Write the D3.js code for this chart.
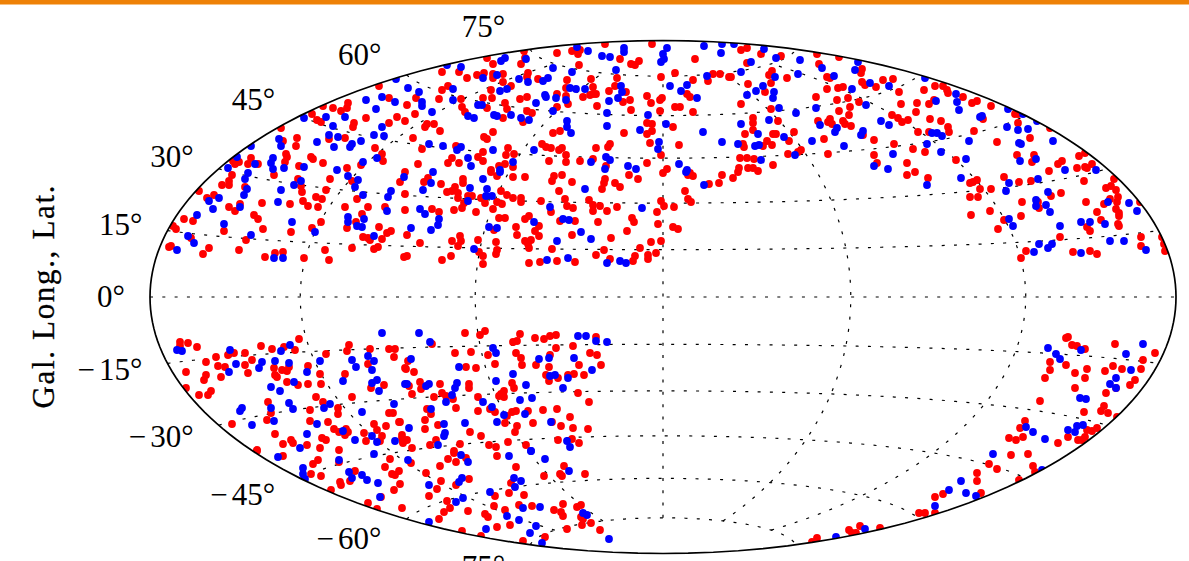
<!DOCTYPE html>
<html><head><meta charset="utf-8">
<script src="https://cdn.jsdelivr.net/npm/d3@7/dist/d3.min.js"></script>
<style>html,body{margin:0;padding:0;background:#fff;overflow:hidden}svg{display:block}</style>
</head><body><svg id="chart" width="1189" height="561"></svg>
<script>
// Map-plane readings of the Hammer map: [east of centre, north of centre]
const redNorthWest=[[-221,225],[-204,225],[-196,219],[-186,222],[-284,211],[-221,207],[-215,211],[-274,199],[-247,199],[-224,198],[-256,192],[-202,198],[-201,190],[-198,185],[-315,194],[-316,189],[-330,189],[-322,186],[-340,191],[-351,183],[-248,183],[-266,180],[-258,176],[-297,179],[-346,177],[-342,175],[-309,174],[-310,170],[-274,174],[-236,173],[-238,170],[-229,173],[-223,166],[-382,169],[-366,159],[-367,151],[-380,156],[-334,158],[-318,159],[-250,159],[-288,149],[-241,148],[-207,151],[-281,143],[-280,136],[-377,143],[-376,140],[-378,135],[-352,140],[-350,138],[-340,134],[-364,131],[-412,139],[-430,136],[-424,135],[-428,133],[-415,133],[-405,133],[-211,139],[-215,134],[-204,134],[-185,140],[-245,133],[-316,129],[-302,132],
[-58,253],[-11,253],[-106,244],[-91,246],[-83,247],[-85,243],[-176,239],[-170,233],[-139,246],[-138,239],[-142,233],[-43,238],[-24,236],[-32,233],[-28,232],[-84,232],[-179,224],[-170,223],[-160,223],[-135,224],[-136,220],[-170,219],[-160,215],[-125,218],[-96,217],[-72,218],[-46,219],[-2,220],[-152,211],[-172,207],[-70,210],[-97,209],[-48,211],[-54,206],[-37,205],[-97,201],[-106,203],[-70,203],[-67,203],[-73,202],[-80,200],[-16,201],[-1,199],[-3,197],[-180,199],[-171,199],[-143,198],[-136,200],[-158,194],[-156,188],[-176,189],[-40,195],[-33,197],[-12,194],[-95,193],[-66,191],[-106,190],[-32,187],[-3,186],[-136,186],[-131,184],[-160,179],[-140,175],[-16,174],[-11,173],[-11,166],[-16,163],[-170,165],[-110,164],[-103,166],[-39,164],[-179,160],[-176,158],[-13,154],[-121,153],[-117,150],[-112,149],[-101,149],[-104,147],[-53,153],[-55,150],[-67,149],[-155,149],[-180,145],[-157,142],[-149,143],[-97,142],[-2,142],[-70,138],[-180,136],[-114,136],[-97,135],[-83,136],[-57,131],[-16,134],[-158,133],[-164,131],[-150,130],[-172,127]];
const redNorthEast=[[32,238],[12,224],[30,217],[50,223],[57,223],[45,216],[66,220],[24,203],[27,200],[12,190],[17,190],[30,185],[10,170],[16,152],[4,128],
[78,247],[84,249],[98,243],[118,241],[154,243],[176,240],[84,234],[156,233],[109,226],[106,222],[68,220],[124,219],[108,214],[164,220],[167,219],[199,228],[198,224],[85,213],[102,205],[164,208],[175,209],[180,210],[199,215],[202,212],[213,210],[220,217],[230,218],[236,205],[272,211],[280,211],[284,207],[285,204],[261,207],[153,200],[174,197],[185,199],[196,195],[300,200],[314,196],[309,194],[78,193],[238,193],[254,194],[271,197],[266,193],[187,190],[176,186],[108,188],[253,185],[229,182],[235,179],[239,175],[245,177],[186,182],[167,178],[90,179],[90,174],[155,176],[115,176],[165,175],[169,173],[180,176],[182,173],[188,171],[267,178],[278,176],[285,170],[286,165],[255,165],[266,165],[311,166],[90,167],[82,163],[110,163],[113,163],[131,165],[200,162],[126,156],[161,158],[211,157],[231,153],[104,156],[100,151],[109,152],[80,153],[81,150],[250,148],[262,145],[138,147],[135,145],[125,143],[165,143],[211,142],[77,139],[84,139],[91,138],[110,132],[293,137],[214,134],[244,134],[76,129],[90,129],
[328,191],[352,183],[355,183],[355,174],[387,169],[320,178],[367,159],[334,155],[354,142],[371,142],[369,135],[416,141],[422,144],[399,136],[395,133],[429,133],[414,129],[422,130],[424,129],[386,126],[451,118],[341,120],[314,117],[310,115],[307,114],[356,115],[368,116],[421,116],[443,109],[448,111],[453,107],[317,108],[328,108],[307,100],[315,100],[398,104],[388,101],[455,100],[447,98],[477,95],[359,95],[423,95],[441,93],[454,95],[375,95],[376,89],[453,88],[327,86],[308,82],[456,84],[456,81],[434,85],[358,81],[341,77],[438,77],[424,70],[455,73],[456,71],[335,68],[427,66],[397,60],[478,60],[499,60],[501,53],[478,51],[410,45],[427,46],[434,43],[502,46],[363,46],[358,39],
[244,122],[252,125],[265,119]];
const redNorthBand=[[-389,122],[-431,122],[-434,116],[-434,112],[-441,112],[-464,106],[-418,110],[-365,118],[-362,111],[-361,105],[-333,118],[-337,107],[-449,102],[-456,99],[-347,100],[-341,98],[-306,98],[-311,116],[-263,115],[-401,94],[-373,93],[-360,96],[-355,91],[-345,90],[-434,90],[-428,86],[-423,93],[-318,90],[-295,90],[-278,90],[-301,83],[-479,78],[-470,76],[-409,82],[-405,78],[-342,75],[-307,75],[-490,71],[-487,68],[-400,68],[-439,66],[-372,65],[-351,69],[-316,69],[-284,70],[-272,66],[-276,64],[-472,59],[-417,57],[-300,60],[-295,59],[-293,57],[-281,58],[-289,48],[-285,50],[-492,51],[-494,50],[-454,49],[-460,43],[-424,47],[-338,47],[-311,49],[-398,40],[-388,44],[-380,45],[-359,39],[-334,37],
[-258,125],[-239,115],[-235,119],[-222,113],[-258,103],[-200,118],[-200,114],[-216,105],[-211,106],[-208,110],[-205,104],[-205,99],[-195,101],[-191,101],[-172,125],[-166,121],[-150,120],[-138,120],[-101,122],[-109,121],[-111,116],[-91,115],[-58,118],[-59,114],[-61,108],[-48,114],[-43,110],[0,124],[25,122],[30,121],[-25,118],[-34,122],[22,106],[25,98],[28,95],[-2,96],[1,91],[11,90],[-104,106],[-162,106],[-156,102],[-150,99],[-142,99],[-142,95],[-182,99],[-178,94],[-166,95],[-161,93],[-170,88],[-201,89],[-209,87],[-199,94],[-187,85],[-258,87],[-231,88],[-224,85],[-122,96],[-112,85],[-98,98],[-96,91],[-90,89],[-74,97],[-70,92],[-70,86],[-63,91],[-56,86],[-46,90],[-6,85],[-134,81],[-138,78],[-164,79],[-158,79],[-103,76],[-88,76],[-65,75],[-31,79],[-29,75],[-5,73],[10,70],[15,68],[-124,71],[-128,66],[-147,70],[-169,67],[-36,66],[-256,62],[-146,62],[-124,61],[-91,62],[-203,61],[-243,54],[-211,56],[-202,56],[-205,51],[-185,57],[-167,55],[-138,56],[-132,57],[-135,53],[-134,49],[-52,59],[-12,55],[-2,56],[-111,48],[-166,47],[-167,43],[-23,49],[-59,47],[-7,44],[-67,42],[-15,42],[-28,41],[-30,36],[-15,38],[-53,38],[-259,40],[-256,41],[-221,37],[-212,41],[-184,45],[-180,41],[-180,33],[-134,34],[-123,35],[-106,36],[-88,35],
[46,113],[56,114],[59,122],[70,119],[75,125],[85,129],[95,126],[27,124]];
const redSouthWest=[[-483,-45],[-475,-46],[-466,-50],[-483,-49],[-364,-42],[-402,-49],[-391,-52],[-379,-50],[-368,-53],[-314,-48],[-316,-54],[-293,-52],[-274,-52],[-268,-52],[-269,-60],[-337,-57],[-418,-56],[-429,-56],[-435,-58],[-447,-60],[-457,-65],[-411,-63],[-445,-69],[-438,-70],[-418,-68],[-477,-75],[-457,-78],[-459,-83],[-442,-80],[-415,-76],[-389,-71],[-374,-70],[-381,-73],[-376,-74],[-388,-78],[-386,-80],[-376,-85],[-365,-88],[-355,-69],[-343,-77],[-355,-87],[-342,-87],[-318,-77],[-295,-67],[-279,-88],[-292,-91],[-258,-71],[-477,-91],[-452,-94],[-455,-98],[-464,-98],[-347,-100],[-311,-100],[-340,-105],[-395,-105],[-325,-111],[-325,-117],[-392,-116],[-353,-113],[-274,-116],[-270,-116],[-396,-123],[-353,-124],[-335,-125],[-431,-127],[-289,-127],[-277,-129],[-264,-125],[-388,-137],[-329,-132],[-324,-135],[-317,-132],[-315,-135],[-318,-138],[-299,-136],[-286,-133],[-281,-139],[-261,-138],[-260,-145],[-297,-144],[-283,-144],[-341,-141],[-337,-143],[-372,-143],[-370,-146],[-380,-147],[-356,-148],[-406,-153],[-343,-151],[-324,-153]];
const redSouthMiddle=[[-198,-36],[-178,-34],[-183,-38],[-143,-37],[-128,-41],[-119,-42],[-113,-39],[-107,-38],[-67,-40],[-150,-45],[-146,-44],[-231,-47],[-107,-51],[-90,-49],[-208,-56],[-192,-55],[-175,-58],[-147,-56],[-113,-58],[-73,-56],[-66,-58],[-255,-64],[-142,-61],[-141,-68],[-168,-67],[-127,-68],[-114,-70],[-84,-68],[-62,-68],[-257,-72],[-249,-75],[-197,-70],[-187,-71],[-117,-78],[-105,-81],[-114,-84],[-95,-78],[-89,-77],[-79,-78],[-254,-89],[-243,-85],[-242,-92],[-223,-87],[-194,-87],[-194,-91],[-221,-96],[-151,-86],[-149,-91],[-251,-97],[-229,-100],[-217,-99],[-210,-102],[-185,-100],[-159,-94],[-162,-97],[-164,-99],[-159,-100],[-85,-96],[-74,-105],[-207,-111],[-236,-112],[-232,-117],[-185,-114],[-173,-112],[-168,-115],[-151,-115],[-147,-114],[-156,-119],[-135,-114],[-120,-113],[-106,-112],[-93,-120],[-238,-123],[-263,-125],[-158,-126],[-146,-129],[-130,-126],[-111,-125],[-102,-129],[-90,-131],[-75,-132],[-238,-132],[-225,-128],[-193,-135],[-182,-139],[-148,-135],[-261,-141],[-256,-143],[-260,-146],[-227,-143],[-233,-148],[-203,-147],[-174,-148],[-167,-150],[-155,-145],[-137,-148],[-105,-143],[-91,-142],[-84,-146],[-251,-151],[-209,-154],
[-380,-159],[-406,-154],[-345,-163],[-350,-167],[-324,-165],[-209,-156],[-215,-162],[-207,-165],[-197,-161],[-223,-169],[-273,-162],[-278,-170],[-252,-166],[-166,-159],[-147,-170],[-99,-169],[-78,-177],[-119,-179],[-103,-177],[-101,-179],[-237,-176],[-264,-174],[-271,-177],[-268,-178],[-308,-174],[-352,-177],[-342,-179],[-194,-182],[-222,-184],[-263,-187],[-313,-184],[-323,-185],[-322,-188],[-152,-186],[-226,-192],[-207,-188],[-269,-193],[-154,-196],[-168,-199],[-139,-198],[-332,-193],[-234,-199],[-282,-200],[-216,-204],[-213,-211],[-219,-215],[-195,-214],[-224,-222],[-295,-206],[-261,-211],[-286,-212],[-169,-209],[-144,-208],[-131,-209],[-100,-207],[-109,-213],[-102,-215],[-100,-219],[-86,-210],[-82,-208],[-82,-220],[-80,-222],[-72,-226],[-81,-228],[-96,-232],[-158,-213],[-178,-217],[-175,-220],[-166,-230],[-153,-228],[-201,-234],[-182,-239],[-63,-233],[-140,-244],[-118,-240]];
const redSouthEast=[[403,-41],[405,-40],[409,-48],[414,-49],[422,-52],[452,-47],[492,-56],[480,-63],[387,-65],[403,-68],[387,-73],[424,-72],[450,-69],[459,-72],[442,-74],[478,-72],[412,-76],[382,-81],[422,-81],[472,-83],[467,-88],[412,-91],[443,-96],[453,-91],[377,-104],[441,-109],[438,-114],[445,-116],[421,-115],[454,-120],[362,-124],[357,-131],[424,-133],[429,-134],[434,-131],[360,-140],[346,-141],[353,-143],[405,-140],[395,-146],[415,-143],[419,-143],[422,-140],[348,-158],[365,-157],[326,-167],[334,-172],[370,-169],[372,-175],[314,-176],[314,-184],[356,-183],[318,-196],[280,-197],[272,-200],[272,-216],[256,-216],[262,-216],[217,-231],[186,-233],[189,-236],[193,-236],[197,-229],[154,-241],[149,-245]];
const blueNorth=[[-216,232],[-202,230],[-267,218],[-255,209],[-244,205],[-210,208],[-210,197],[-241,195],[-241,191],[-268,195],[-297,197],[-281,200],[-287,188],[-231,185],[-195,181],[-189,179],[-185,192],[-359,179],[-337,180],[-318,180],[-330,171],[-281,170],[-334,162],[-325,160],[-289,162],[-279,161],[-384,158],[-346,155],[-302,156],[-311,153],[-313,150],[-329,150],[-382,151],[-412,151],[-234,153],[-220,151],[-202,150],[-206,147],[-195,139],[-426,140],[-390,139],[-392,134],[-408,133],[-300,135],[-286,139],[-192,131],[-390,128],[-379,129],[-359,130],[-326,127],
[-86,250],[-39,249],[-39,245],[4,249],[41,251],[59,253],[58,244],[-75,246],[0,243],[1,238],[-2,235],[-61,241],[-53,240],[-158,239],[-162,236],[-137,238],[-110,229],[-91,225],[-47,227],[-166,222],[-180,219],[-144,218],[-135,215],[-115,219],[-120,216],[44,221],[7,211],[24,212],[-42,211],[-93,209],[-87,208],[-78,208],[-41,205],[-45,199],[-54,196],[18,206],[34,199],[-156,208],[-163,206],[-118,202],[-117,200],[-107,199],[-97,197],[-127,194],[-181,192],[-110,186],[-56,184],[-15,182],[-169,182],[-166,181],[-152,182],[-142,179],[-134,177],[-96,176],[-96,170],[-92,164],[-56,171],[3,173],[-23,167],[40,165],[59,155],[-4,155],[-5,148],[-170,147],[-129,147],[-150,135],[-57,140],[-53,137],[-72,135],[-35,131],[16,133],[-58,128],[-27,128],[-163,127],[24,127],
[71,253],[101,248],[113,239],[137,237],[88,235],[195,235],[159,229],[192,227],[78,225],[135,223],[112,220],[171,221],[262,219],[207,214],[226,211],[189,208],[100,211],[93,206],[84,202],[111,205],[110,199],[293,203],[294,195],[273,196],[296,187],[203,192],[317,180],[116,189],[153,189],[133,184],[106,177],[78,173],[157,172],[174,169],[172,165],[218,176],[226,172],[200,166],[198,162],[269,164],[274,164],[279,161],[95,163],[121,160],[149,156],[306,156],[75,153],[92,151],[96,152],[181,151],[264,153],[278,145],[132,142],[230,143],[98,137],[303,138],[211,131],[225,128],
[345,188],[360,183],[319,181],[374,176],[344,170],[355,167],[365,168],[356,154],[358,153],[390,156],[373,138],[357,136],[402,127],[433,127],[375,118],[346,114],[298,119],[343,106],[385,105],[373,97],[373,91],[383,92],[387,85],[445,95],[466,94],[474,86],[346,78],[350,71],[418,75],[427,75],[442,73],[397,71],[447,56],[461,56],[376,53],[389,53],[385,49],[371,45],[418,44],[483,47],[264,112]];
const blueNorthBand=[[-435,129],[-415,124],[-418,118],[-416,108],[-419,102],[-382,107],[-362,116],[-369,112],[-315,121],[-305,117],[-308,110],[-300,102],[-272,106],[-275,100],[-454,96],[-444,99],[-450,88],[-385,95],[-423,90],[-276,86],[-466,82],[-315,80],[-315,75],[-299,78],[-439,73],[-371,75],[-306,71],[-301,70],[-348,65],[-412,62],[-475,61],[-469,54],[-289,61],[-486,47],[-389,39],[-380,39],
[-259,120],[-230,125],[-232,114],[-240,107],[-180,118],[-163,125],[-193,109],[-176,108],[-177,101],[-171,101],[-195,96],[-78,108],[-21,89],[-113,90],[-243,88],[-238,83],[-224,78],[-225,72],[-232,67],[-252,69],[-174,70],[-166,69],[-129,75],[-100,78],[-94,77],[-82,65],[-72,58],[-106,56],[-189,48],[-116,37],[-95,39],[-56,34],[-43,36],[-37,34],[23,125],[41,112]];
const blueSouth=[[-281,-36],[-373,-48],[-382,-54],[-486,-53],[-481,-54],[-433,-53],[-401,-65],[-388,-64],[-374,-66],[-343,-64],[-311,-63],[-295,-59],[-289,-64],[-307,-70],[-291,-73],[-427,-67],[-404,-71],[-434,-75],[-356,-75],[-320,-84],[-286,-83],[-291,-86],[-284,-94],[-369,-85],[-392,-90],[-383,-94],[-374,-106],[-370,-112],[-392,-111],[-421,-111],[-423,-114],[-333,-107],[-339,-111],[-301,-115],[-269,-107],[-389,-124],[-411,-128],[-346,-127],[-356,-137],[-320,-134],[-291,-139],[-308,-143],[-286,-145],[-268,-144],[-363,-151],[-258,-87],
[-244,-36],[-233,-45],[-85,-39],[-77,-39],[-67,-44],[-56,-45],[-170,-51],[-167,-56],[-252,-62],[-124,-62],[-114,-61],[-89,-61],[-204,-70],[-71,-73],[-150,-77],[-113,-79],[-108,-78],[-95,-81],[-167,-84],[-256,-87],[-237,-89],[-234,-87],[-206,-86],[-208,-91],[-211,-98],[-137,-88],[-100,-91],[-217,-105],[-232,-112],[-180,-105],[-143,-103],[-131,-101],[-171,-110],[-159,-118],[-138,-117],[-166,-125],[-112,-125],[-254,-131],[-219,-127],[-218,-136],[-219,-139],[-198,-126],[-225,-148],[-96,-144],[-93,-150],[-132,-154],
[-385,-160],[-360,-171],[-360,-177],[-358,-182],[-324,-163],[-289,-157],[-255,-163],[-202,-158],[-195,-165],[-154,-159],[-132,-154],[-118,-162],[-94,-174],[-314,-175],[-311,-181],[-301,-178],[-296,-183],[-285,-186],[-201,-181],[-204,-185],[-234,-188],[-149,-181],[-142,-184],[-148,-190],[-173,-195],[-200,-201],[-207,-205],[-283,-200],[-140,-211],[-123,-210],[-80,-216],[-76,-218],[-156,-219],[-144,-223],[-234,-225],[-127,-229],[-177,-232],[-133,-236],[-121,-246],[-54,-242]];
const blueSouthEast=[[385,-51],[418,-53],[393,-57],[397,-62],[480,-47],[463,-57],[468,-73],[453,-81],[447,-87],[453,-91],[417,-101],[423,-102],[363,-130],[370,-135],[382,-142],[420,-128],[414,-129],[405,-133],[412,-135],[330,-157],[379,-173],[298,-184],[303,-196],[313,-199],[286,-193],[272,-209],[202,-232],[173,-240]];

const latitudeTicks=[75,60,45,30,15,0,-15,-30,-45,-60,-75];
const latitudeLabels=["75°","60°","45°","30°","15°","0°","−15°","−30°","−45°","−60°","−75°"];
const meridians=[-120,-60,0,60,120];
const yAxisTitle="Gal. Long., Lat.";
const latitudeCap=75;

const width=1189,height=561,cx=663,cy=297,halfW=513,halfH=257;
const svg=d3.select("#chart");
svg.append("rect").attr("x",0).attr("y",0).attr("width",width).attr("height",4.5).attr("fill","#ee8106");

function hammerRaw(l,p){
  const cp=Math.cos(p), d=Math.sqrt(1+cp*Math.cos(l/2));
  return [2*Math.SQRT2*cp*Math.sin(l/2)/d, Math.SQRT2*Math.sin(p)/d];
}
const projection=d3.geoProjection(hammerRaw).scale(halfW/(2*Math.SQRT2)).translate([cx,cy]).precision(0.1);
const path=d3.geoPath(projection);
const xMap=d3.scaleLinear().domain([-halfW,halfW]).range([cx-halfW,cx+halfW]);
const yMap=d3.scaleLinear().domain([-halfH,halfH]).range([cy+halfH,cy-halfH]);

svg.append("clipPath").attr("id","globe").append("path").attr("d",path({type:"Sphere"}));

const line=d3.line();
const gridG=svg.append("g").attr("fill","none").attr("stroke","#000").attr("stroke-width",1.2).attr("stroke-dasharray","3 9.3");
latitudeTicks.forEach(lat=>{
  const pts=d3.range(-180,180.5,2).map(lon=>projection([Math.max(-179.99,Math.min(179.99,lon)),lat]));
  gridG.append("path").attr("d",line(pts));
});
meridians.forEach(lon=>{
  const pts=d3.range(-latitudeCap,latitudeCap+0.5,1).map(lat=>projection([lon,lat]));
  gridG.append("path").attr("d",line(pts));
});

const pts=svg.append("g").attr("clip-path","url(#globe)");
function dots(list,color){
  pts.append("g").attr("fill",color).selectAll("circle").data(list).join("circle")
    .attr("cx",d=>xMap(d[0])).attr("cy",d=>yMap(d[1])).attr("r",3.9);
}
dots([...redNorthWest,...redNorthEast,...redNorthBand,...redSouthWest,...redSouthMiddle,...redSouthEast],"#ff0000");
dots([...blueNorth,...blueNorthBand,...blueSouth,...blueSouthEast],"#0000ff");

svg.append("path").attr("d",path({type:"Sphere"})).attr("fill","none").attr("stroke","#000").attr("stroke-width",1.7);

const labels=svg.append("g").attr("font-family","'Liberation Serif',serif").attr("font-size",31).attr("fill","#000").attr("text-anchor","end");
latitudeTicks.forEach((lat,i)=>{
  const p=projection([-179.99,lat]);
  const t=labels.append("text").attr("x",p[0]-25).attr("y",cy+(p[1]-cy)*1.09).attr("dy","0.33em");
  const s=latitudeLabels[i];
  if(s[0]==="−"){t.append("tspan").attr("letter-spacing",4).text("−");t.append("tspan").text(s.slice(1));}
  else t.text(s);
});
svg.append("text").attr("transform",`translate(54,${cy}) rotate(-90)`).attr("text-anchor","middle")
  .attr("font-family","'Liberation Serif',serif").attr("font-size",31).attr("textLength",223).attr("lengthAdjust","spacing")
  .attr("stroke","#000").attr("stroke-width",0.3).attr("fill","#000").text(yAxisTitle);
</script></body></html>
